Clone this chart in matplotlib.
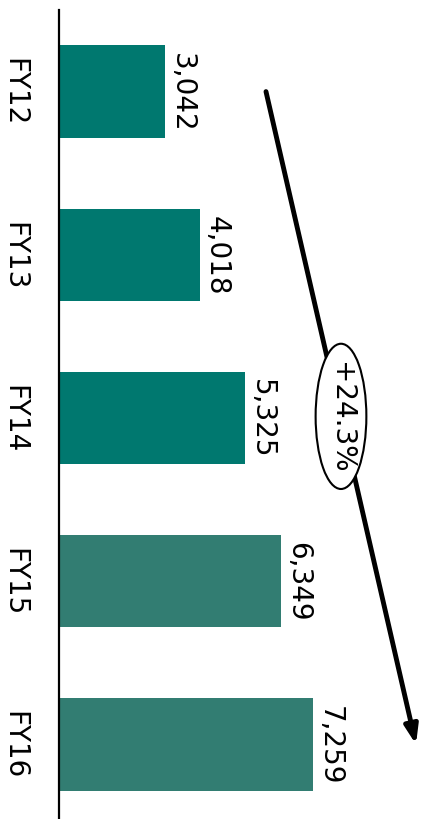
import matplotlib.pyplot as plt
from matplotlib.patches import Ellipse

years = ['FY12', 'FY13', 'FY14', 'FY15', 'FY16']
values = [3042, 4018, 5325, 6349, 7259]
colors = ['#00786F', '#00786F', '#00786F', '#327D72', '#327D72']
cagr_label = '+24.3%'

fig = plt.figure(figsize=(4.28, 8.2), dpi=100)
ax = fig.add_axes([59 / 428, -7 / 820, 1 - 59 / 428, 816 / 820])

pos = list(range(len(years)))
ax.barh(pos, values, height=0.565, color=colors)
ax.set_xlim(0, 10543)
ax.set_ylim(4.5, -0.5)

for spine in ['top', 'right', 'bottom']:
    ax.spines[spine].set_visible(False)
ax.spines['left'].set_linewidth(1.6)
ax.set_xticks([])
ax.set_yticks(pos)
ax.set_yticklabels(years, rotation=270, va='center', ha='right', fontsize=20)
ax.tick_params(axis='y', length=0, pad=22)

# value labels, rotated like the rest of the slide
for p, v in zip(pos, values):
    ax.annotate('{:,}'.format(v), xy=(v, p), xytext=(2, 0), textcoords='offset points',
                rotation=270, ha='left', va='center', fontsize=20)

# growth arrow with CAGR bubble
ax.annotate('', xy=(10200, 4.0), xytext=(5914, 0.0),
            arrowprops=dict(arrowstyle='-|>,head_length=1.1,head_width=0.4',
                            lw=3.5, color='black', shrinkA=0, shrinkB=0))
ax.add_patch(Ellipse((8057, 1.99), width=1450, height=0.89,
                     facecolor='white', edgecolor='black', lw=1.5, zorder=3))
ax.text(8057, 1.99, cagr_label, rotation=270, ha='center', va='center',
        fontsize=20, zorder=4)

fig.savefig('out.png', dpi=100)
